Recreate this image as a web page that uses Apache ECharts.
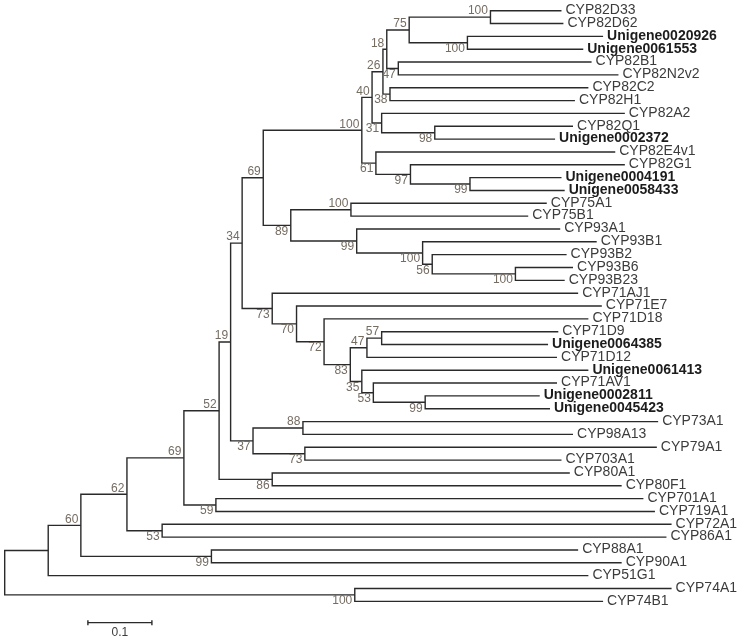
<!DOCTYPE html>
<html><head><meta charset="utf-8">
<script src="https://cdn.jsdelivr.net/npm/echarts@6/dist/echarts.min.js"></script>
<style>html,body{margin:0;padding:0;background:#fff}#c{width:745px;height:640px}</style>
</head><body><div id="c"></div>
<script>
// Leaves, top to bottom
const leafNames = ['CYP82D33','CYP82D62','Unigene0020926','Unigene0061553','CYP82B1','CYP82N2v2','CYP82C2','CYP82H1','CYP82A2','CYP82Q1','Unigene0002372','CYP82E4v1','CYP82G1','Unigene0004191','Unigene0058433','CYP75A1','CYP75B1','CYP93A1','CYP93B1','CYP93B2','CYP93B6','CYP93B23','CYP71AJ1','CYP71E7','CYP71D18','CYP71D9','Unigene0064385','CYP71D12','Unigene0061413','CYP71AV1','Unigene0002811','Unigene0045423','CYP73A1','CYP98A13','CYP79A1','CYP703A1','CYP80A1','CYP80F1','CYP701A1','CYP719A1','CYP72A1','CYP86A1','CYP88A1','CYP90A1','CYP51G1','CYP74A1','CYP74B1'];
// Distance from root of each leaf tip
const leafDepths = [0.870,0.873,0.935,0.904,0.917,0.959,0.912,0.891,0.969,0.888,0.860,0.954,0.969,0.870,0.875,0.847,0.818,0.868,0.925,0.878,0.888,0.875,0.896,0.933,0.912,0.865,0.849,0.863,0.912,0.863,0.836,0.852,1.021,0.888,1.019,0.870,0.883,0.964,0.998,1.016,1.042,1.034,0.896,0.964,0.912,1.042,0.935];
const boldLeaves = ['Unigene0020926','Unigene0061553','Unigene0002372','Unigene0004191','Unigene0058433','Unigene0064385','Unigene0061413','Unigene0002811','Unigene0045423'];
// Internal nodes
const nodeIds = ['root','nA','n60','n62','n69b','n52','n19','n34','n69a','n82','n40','n26','n18','n75','n82D','nU1','n82B','n38','n31','n98','n61','n97','nU2','n89','n75ab','n93','n93B','n56','n93B6','n71','n70','n72','n83','n71D','n57','n35','n53a','nU3','n37','n88','n73b','n80','n701','n7286','n8890','n74'];
const nodeDepths = [0,0.068,0.119,0.191,0.280,0.335,0.353,0.371,0.404,0.558,0.574,0.591,0.597,0.632,0.759,0.723,0.615,0.602,0.589,0.672,0.580,0.634,0.727,0.447,0.541,0.550,0.653,0.668,0.798,0.418,0.456,0.499,0.540,0.566,0.589,0.558,0.576,0.657,0.388,0.466,0.469,0.418,0.330,0.246,0.323,0.547];
const nodeBootstraps = ['','',60,62,69,52,19,34,69,100,40,26,18,75,100,100,47,38,31,98,61,97,99,89,100,99,100,56,100,73,70,72,83,47,57,35,53,99,37,88,73,86,59,53,99,100];
const nodeChildren = [
 ['nA','n74'],['n60','CYP51G1'],['n62','n8890'],['n69b','n7286'],['n52','n701'],['n19','n80'],['n34','n37'],['n69a','n71'],['n82','n89'],
 ['n40','n61'],['n26','n31'],['n18','n38'],['n75','n82B'],['n82D','nU1'],['CYP82D33','CYP82D62'],['Unigene0020926','Unigene0061553'],
 ['CYP82B1','CYP82N2v2'],['CYP82C2','CYP82H1'],['CYP82A2','n98'],['CYP82Q1','Unigene0002372'],['CYP82E4v1','n97'],['CYP82G1','nU2'],
 ['Unigene0004191','Unigene0058433'],['n75ab','n93'],['CYP75A1','CYP75B1'],['CYP93A1','n93B'],['CYP93B1','n56'],['CYP93B2','n93B6'],
 ['CYP93B6','CYP93B23'],['CYP71AJ1','n70'],['CYP71E7','n72'],['CYP71D18','n83'],['n71D','n35'],['n57','CYP71D12'],['CYP71D9','Unigene0064385'],
 ['Unigene0061413','n53a'],['CYP71AV1','nU3'],['Unigene0002811','Unigene0045423'],['n88','n73b'],['CYP73A1','CYP98A13'],['CYP79A1','CYP703A1'],
 ['CYP80A1','CYP80F1'],['CYP701A1','CYP719A1'],['CYP72A1','CYP86A1'],['CYP88A1','CYP90A1'],['CYP74A1','CYP74B1']];
const scaleBarStart = 0.13;
const scaleBarLength = 0.1;
const scaleBarLabel = '0.1';
const scaleBarRow = 47.66;

// ---- layout from the data ----
const depthOf = {}, yOf = {}, kidsOf = {}, bootOf = {};
leafNames.forEach((n, i) => { depthOf[n] = leafDepths[i]; yOf[n] = i; });
nodeIds.forEach((n, i) => { depthOf[n] = nodeDepths[i]; kidsOf[n] = nodeChildren[i]; bootOf[n] = nodeBootstraps[i]; });
function layY(n) {
  if (yOf[n] !== undefined) return yOf[n];
  const k = kidsOf[n];
  yOf[n] = (layY(k[0]) + layY(k[k.length - 1])) / 2;
  return yOf[n];
}
layY('root');
const bracketData = nodeIds.map(n => {
  const k = kidsOf[n];
  return [depthOf[n], yOf[k[0]], yOf[k[1]], depthOf[k[0]], depthOf[k[1]]];
});
const bootData = [];
nodeIds.forEach(n => {
  kidsOf[n].forEach((c, j) => {
    if (bootOf[c] !== undefined && bootOf[c] !== '') bootData.push([depthOf[c], yOf[c], j === 0 ? -1 : 1, String(bootOf[c])]);
  });
});
const leafData = leafNames.map((n, i) => [leafDepths[i], i, n]);

const FONT = "'Liberation Sans', Arial, Helvetica, sans-serif";
const LINE = '#2a2a2a';

const chart = echarts.init(document.getElementById('c'), null, { renderer: 'canvas' });
chart.setOption({
  animation: false,
  backgroundColor: '#ffffff',
  grid: { left: 0, right: 0, top: 0, bottom: 0 },
  xAxis: { type: 'value', min: -0.00734, max: 1.15672, show: false },
  yAxis: { type: 'value', inverse: true, min: -0.8333, max: 49.011, show: false },
  series: [
    {
      type: 'custom', data: bracketData, encode: { x: 0, y: 1 }, clip: false, silent: true,
      renderItem: (params, api) => {
        const a = api.coord([api.value(3), api.value(1)]);
        const b = api.coord([api.value(0), api.value(1)]);
        const c = api.coord([api.value(0), api.value(2)]);
        const d = api.coord([api.value(4), api.value(2)]);
        return { type: 'polyline', shape: { points: [a, b, c, d] },
          style: { stroke: LINE, lineWidth: 1.4, fill: null, lineJoin: 'miter' } };
      }
    },
    {
      type: 'custom', data: leafData, encode: { x: 0, y: 1 }, clip: false, silent: true,
      renderItem: (params, api) => {
        const p = api.coord([api.value(0), api.value(1)]);
        const name = leafData[params.dataIndex][2];
        const bold = boldLeaves.indexOf(name) >= 0;
        return { type: 'text', x: p[0] + 4, y: p[1] - 0.5,
          style: { text: name, font: (bold ? 'bold ' : '') + '14px ' + FONT,
            fill: bold ? '#1c1c1c' : '#3c3c3c', align: 'left', verticalAlign: 'middle' } };
      }
    },
    {
      type: 'custom', data: bootData, encode: { x: 0, y: 1 }, clip: false, silent: true,
      renderItem: (params, api) => {
        const p = api.coord([api.value(0), api.value(1)]);
        const side = api.value(2);
        return { type: 'text', x: p[0] - 2.5, y: p[1] + side * 6,
          style: { text: bootData[params.dataIndex][3], font: '12px ' + FONT,
            fill: '#756c62', align: 'right', verticalAlign: 'middle' } };
      }
    },
    {
      type: 'custom', data: [[scaleBarStart, scaleBarRow, scaleBarStart + scaleBarLength]], encode: { x: 0, y: 1 }, clip: false, silent: true,
      renderItem: (params, api) => {
        const a = api.coord([api.value(0), api.value(1)]);
        const b = api.coord([api.value(2), api.value(1)]);
        return { type: 'group', children: [
          { type: 'line', shape: { x1: a[0], y1: a[1], x2: b[0], y2: b[1] }, style: { stroke: LINE, lineWidth: 1.4 } },
          { type: 'line', shape: { x1: a[0], y1: a[1] - 2.5, x2: a[0], y2: a[1] + 2.5 }, style: { stroke: LINE, lineWidth: 1.4 } },
          { type: 'line', shape: { x1: b[0], y1: b[1] - 2.5, x2: b[0], y2: b[1] + 2.5 }, style: { stroke: LINE, lineWidth: 1.4 } },
          { type: 'text', x: (a[0] + b[0]) / 2, y: a[1] + 4,
            style: { text: scaleBarLabel, font: '12px ' + FONT, fill: '#3c3c3c', align: 'center', verticalAlign: 'top' } }
        ] };
      }
    }
  ]
});
</script></body></html>
